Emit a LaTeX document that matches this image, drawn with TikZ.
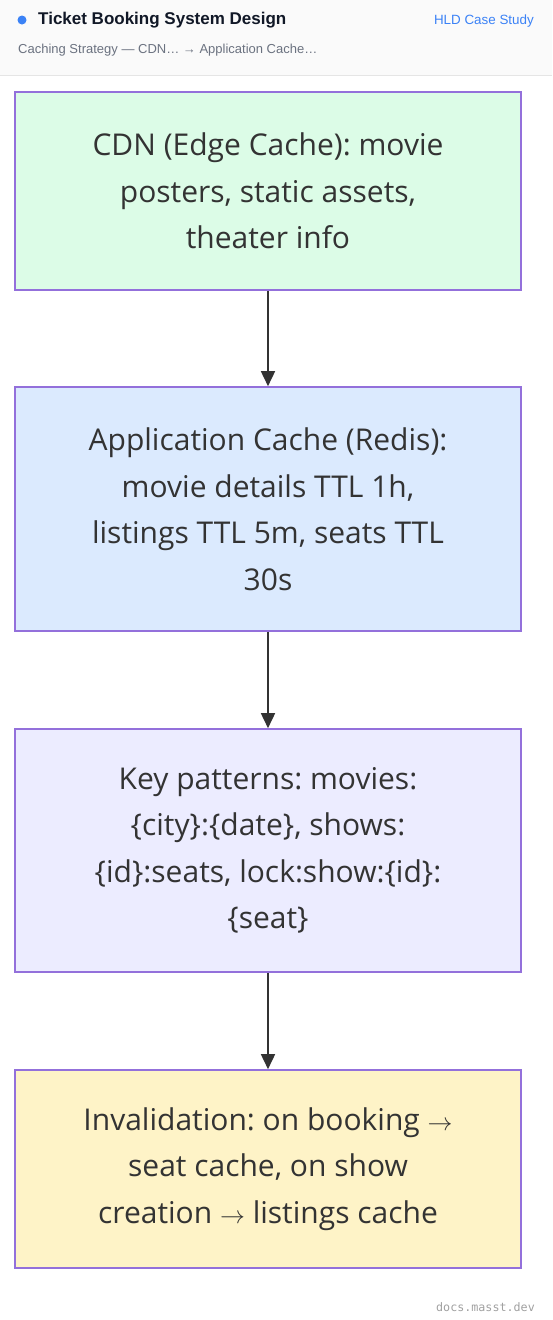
\documentclass[tikz,border=0pt]{standalone}
\usepackage{fontspec}
\setmainfont{Open Sans}
\newfontfamily\uifont{Liberation Sans}
\newfontfamily\monofont{DejaVu Sans Mono}
\usetikzlibrary{arrows.meta}
\frenchspacing
\definecolor{hdrbg}{HTML}{FAFAFA}
\definecolor{hdrline}{HTML}{E5E5E5}
\definecolor{dotblue}{HTML}{3B82F6}
\definecolor{titlec}{HTML}{111827}
\definecolor{subc}{HTML}{6B7280}
\definecolor{linkc}{HTML}{3B82F6}
\definecolor{bordc}{HTML}{9370DB}
\definecolor{txtc}{HTML}{333333}
\definecolor{fillA}{HTML}{DCFCE7}
\definecolor{fillB}{HTML}{DBEAFE}
\definecolor{fillC}{HTML}{ECECFF}
\definecolor{fillD}{HTML}{FEF3C7}
\definecolor{footc}{HTML}{A0A0A0}
\newcommand{\rarr}{\ensuremath{\rightarrow}}
\begin{document}
\begin{tikzpicture}[x=1pt,y=-1pt,
  stage/.style={draw=bordc,line width=1.6pt,minimum width=506pt,align=center,
    text=txtc,font=\frenchspacing\fontsize{30}{46.5}\selectfont,inner sep=0pt},
  flow/.style={draw=txtc,line width=1.6pt,-{Triangle[length=15pt,width=14pt]}}]
\useasboundingbox (0,0) rectangle (552,1320);
\fill[hdrbg] (0,0) rectangle (552,75);
\draw[hdrline,line width=1pt] (0,75) -- (552,75);
\fill[dotblue] (22,20) circle (4.5);
\node[anchor=west,font=\uifont\bfseries\fontsize{17}{20}\selectfont,text=titlec,inner sep=0pt] (title) at (38,20) {Ticket Booking System Design};
\node[anchor=east,font=\uifont\fontsize{13.4}{15}\selectfont,text=linkc,inner sep=0pt] (tag) at (534,21) {HLD Case Study};
\node[anchor=west,font=\uifont\fontsize{13}{15}\selectfont,text=subc,inner sep=0pt] (sub) at (18,50) {Caching Strategy — CDN… → Application Cache…};
\node[stage,fill=fillA,minimum height=198pt] (a) at (268,191) {CDN (Edge Cache): movie\\posters, static assets,\\theater info};
\node[stage,fill=fillB,minimum height=244pt] (b) at (268,509) {Application Cache (Redis):\\movie details TTL 1h,\\listings TTL 5m, seats TTL\\30s};
\node[stage,fill=fillC,minimum height=243pt] (c) at (268,850.5) {Key patterns: movies:\\\{city\}:\{date\}, shows:\\\{id\}:seats, lock:show:\{id\}:\\\{seat\}};
\node[stage,fill=fillD,minimum height=198pt] (d) at (268,1169) {Invalidation: on booking \rarr\\seat cache, on show\\creation \rarr{} listings cache};
\draw[flow] (a) -- (b);
\draw[flow] (b) -- (c);
\draw[flow] (c) -- (d);
\node[anchor=east,font=\monofont\fontsize{11.7}{13}\selectfont,text=footc,inner sep=0pt] (foot) at (535,1307) {docs.masst.dev};
\end{tikzpicture}
\end{document}
